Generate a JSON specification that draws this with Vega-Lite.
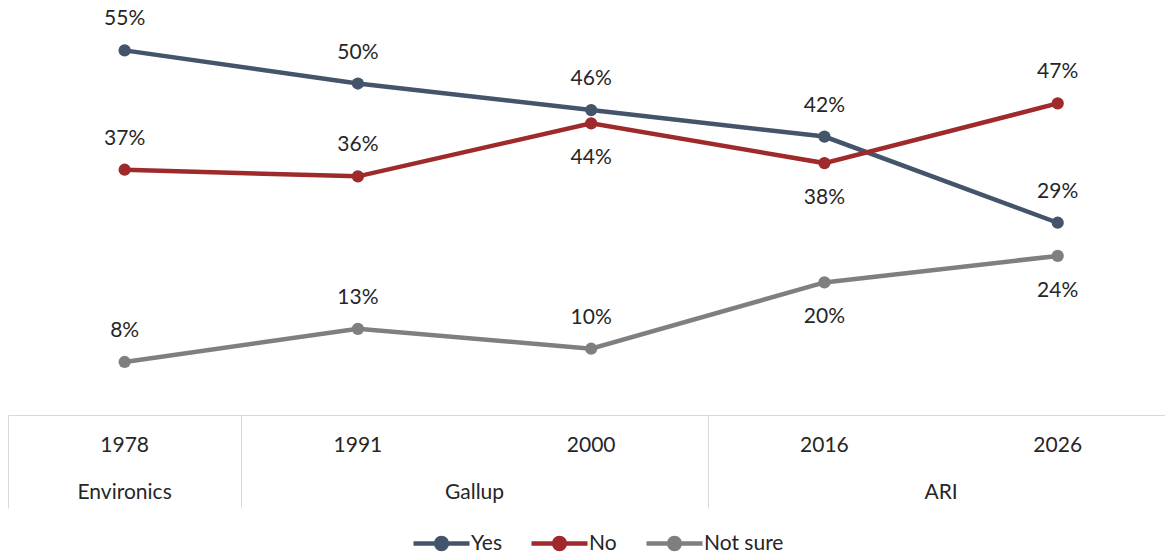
{
  "$schema": "https://vega.github.io/schema/vega-lite/v6.json",
  "padding": {"left": 8, "top": 0, "right": 0, "bottom": 0},
  "spacing": 0,
  "config": {"view": {"stroke": null}, "font": "Lato"},
  "datasets": {
    "survey": [
      {"year": "1978", "source": "Environics", "idx": 0, "series": "Yes", "value": 0.55},
      {"year": "1991", "source": "Gallup", "idx": 1, "series": "Yes", "value": 0.50},
      {"year": "2000", "source": "Gallup", "idx": 2, "series": "Yes", "value": 0.46},
      {"year": "2016", "source": "ARI", "idx": 3, "series": "Yes", "value": 0.42},
      {"year": "2026", "source": "ARI", "idx": 4, "series": "Yes", "value": 0.29},
      {"year": "1978", "source": "Environics", "idx": 0, "series": "No", "value": 0.37},
      {"year": "1991", "source": "Gallup", "idx": 1, "series": "No", "value": 0.36},
      {"year": "2000", "source": "Gallup", "idx": 2, "series": "No", "value": 0.44},
      {"year": "2016", "source": "ARI", "idx": 3, "series": "No", "value": 0.38},
      {"year": "2026", "source": "ARI", "idx": 4, "series": "No", "value": 0.47},
      {"year": "1978", "source": "Environics", "idx": 0, "series": "Not sure", "value": 0.08},
      {"year": "1991", "source": "Gallup", "idx": 1, "series": "Not sure", "value": 0.13},
      {"year": "2000", "source": "Gallup", "idx": 2, "series": "Not sure", "value": 0.10},
      {"year": "2016", "source": "ARI", "idx": 3, "series": "Not sure", "value": 0.20},
      {"year": "2026", "source": "ARI", "idx": 4, "series": "Not sure", "value": 0.24}
    ]
  },
  "vconcat": [
    {
      "width": 1157,
      "height": 415,
      "data": {"name": "survey"},
      "encoding": {
        "x": {"field": "idx", "type": "quantitative", "scale": {"domain": [-0.5, 4.46], "nice": false, "zero": false}, "axis": null},
        "y": {"field": "value", "type": "quantitative", "scale": {"domain": [0, 0.626], "nice": false}, "axis": null},
        "color": {
          "field": "series",
          "type": "nominal",
          "scale": {"domain": ["Yes", "No", "Not sure"], "range": ["#44546A", "#9E2A2B", "#7F7F7F"]},
          "legend": {
            "orient": "none",
            "legendX": 417,
            "legendY": 527,
            "direction": "horizontal",
            "columns": 3,
            "title": null,
            "labelFont": "Lato",
            "labelFontSize": 21,
            "labelColor": "#262626",
            "symbolType": "M-2,0H2M-0.39,0A0.39,0.39,0,1,1,0.39,0A0.39,0.39,0,1,1,-0.39,0Z",
            "symbolSize": 784,
            "symbolStrokeWidth": 4.5,
            "labelOffset": 13,
            "columnPadding": 20
          }
        }
      },
      "layer": [
        {"mark": {"type": "line", "strokeWidth": 4.5}},
        {"mark": {"type": "point", "filled": true, "size": 150, "opacity": 1}},
        {
          "transform": [{"filter": "!((datum.series === 'No' && (datum.year === '2000' || datum.year === '2016')) || (datum.series === 'Not sure' && (datum.year === '2016' || datum.year === '2026')))"}],
          "mark": {"type": "text", "dy": -31, "fontSize": 21, "baseline": "middle"},
          "encoding": {"text": {"field": "value", "type": "quantitative", "format": ".0%"}, "color": {"value": "#262626"}}
        },
        {
          "transform": [{"filter": "(datum.series === 'No' && (datum.year === '2000' || datum.year === '2016')) || (datum.series === 'Not sure' && (datum.year === '2016' || datum.year === '2026'))"}],
          "mark": {"type": "text", "dy": 35, "fontSize": 21, "baseline": "middle"},
          "encoding": {"text": {"field": "value", "type": "quantitative", "format": ".0%"}, "color": {"value": "#262626"}}
        }
      ]
    },
    {
      "width": 1157,
      "height": 93,
      "data": {"name": "survey"},
      "transform": [{"filter": "datum.series === 'Yes'"}],
      "layer": [
        {
          "mark": {"type": "text", "fontSize": 21, "baseline": "middle", "dy": 8, "color": "#262626"},
          "encoding": {
            "x": {"field": "idx", "type": "quantitative", "scale": {"domain": [-0.5, 4.46], "nice": false, "zero": false},
              "axis": {"orient": "top", "domain": true, "domainColor": "#D9D9D9", "domainWidth": 1, "grid": true, "gridColor": "#D9D9D9", "gridWidth": 1, "values": [-0.5, 0.5, 2.5], "labels": false, "ticks": false, "title": null}},
            "y": {"datum": "Year", "type": "nominal", "scale": {"type": "point", "domain": ["Year", "Pollster"], "padding": 0.5}, "axis": null},
            "text": {"field": "year", "type": "nominal"}
          }
        },
        {
          "transform": [{"aggregate": [{"op": "mean", "field": "idx", "as": "mid"}], "groupby": ["source"]}],
          "mark": {"type": "text", "fontSize": 21, "baseline": "middle", "dy": 8, "color": "#262626"},
          "encoding": {
            "x": {"field": "mid", "type": "quantitative"},
            "y": {"datum": "Pollster", "type": "nominal"},
            "text": {"field": "source", "type": "nominal"}
          }
        }
      ]
    }
  ]
}
